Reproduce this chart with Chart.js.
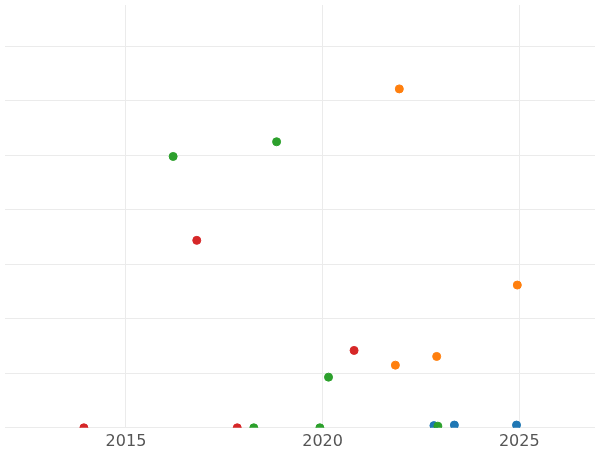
<!DOCTYPE html>
<html>
<head>
<script src="https://cdn.jsdelivr.net/npm/chart.js@4"></script>
<style>
  html, body { margin: 0; padding: 0; background: #fff; }
  #wrap { width: 600px; height: 450px; }
</style>
</head>
<body>
<div id="wrap"><canvas id="chart"></canvas></div>
<script>
// Data
const redX    = [2013.93, 2016.8, 2017.83, 2020.8];
const redY    = [0, 3.44, 0, 1.42];
const greenX  = [2016.2, 2018.25, 2018.83, 2019.93, 2020.15, 2022.93];
const greenY  = [4.98, 0, 5.25, 0, 0.93, 0.03];
const orangeX = [2021.95, 2021.85, 2022.9, 2024.95];
const orangeY = [6.22, 1.15, 1.31, 2.62];
const blueX   = [2022.83, 2023.35, 2024.93];
const blueY   = [0.04, 0.05, 0.05];
const xTicks  = [2015, 2020, 2025];
const yTicks  = [0, 1, 2, 3, 4, 5, 6, 7];

const pts = (xs, ys) => xs.map((x, i) => ({ x, y: ys[i] }));
const series = (data, color) => ({
    data, backgroundColor: color, borderColor: color,
    pointRadius: 4, pointHoverRadius: 4
});

new Chart(document.getElementById('chart'), {
    type: 'scatter',
    data: {
        datasets: [
            series(pts(redX, redY), '#d62728'),
            series(pts(greenX, greenY), '#2ca02c'),
            series(pts(orangeX, orangeY), '#ff7f0e'),
            series(pts(blueX, blueY), '#1f77b4')
        ]
    },
    options: {
        responsive: true,
        maintainAspectRatio: false,
        animation: false,
        layout: { padding: { left: -5, right: -5, top: -5, bottom: -5 } },
        plugins: { legend: { display: false }, tooltip: { enabled: false } },
        scales: {
            x: {
                type: 'linear', min: 2011.925, max: 2026.925,
                afterBuildTicks: s => { s.ticks = xTicks.map(v => ({ value: v })); },
                grid: { color: '#ebebeb', drawTicks: false },
                border: { display: false },
                ticks: { color: '#555', font: { family: 'DejaVu Sans', size: 16 }, padding: 4,
                         callback: v => String(v) }
            },
            y: {
                min: 0, max: 7.76,
                afterBuildTicks: s => { s.ticks = yTicks.map(v => ({ value: v })); },
                grid: { color: '#ebebeb', drawTicks: false },
                border: { display: false },
                ticks: { display: false }
            }
        }
    }
});
</script>
</body>
</html>
